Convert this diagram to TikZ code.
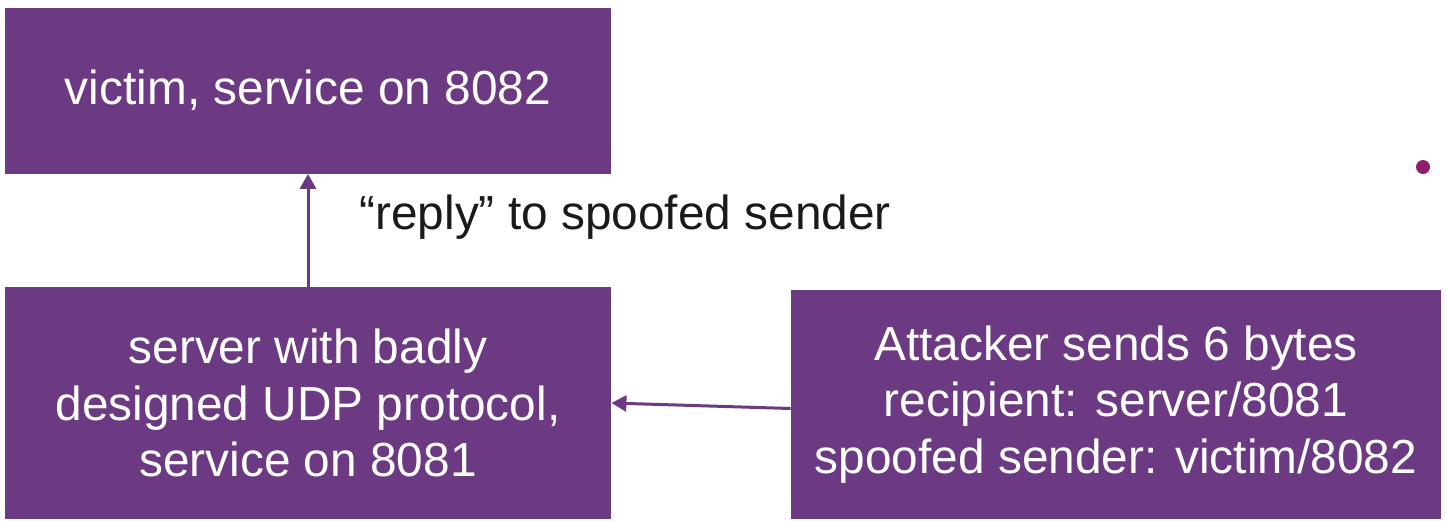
\documentclass[tikz,border=0pt]{standalone}
\usepackage{fontspec}
\setmainfont{Liberation Sans}
\usetikzlibrary{arrows.meta,positioning}
\definecolor{cBox}{HTML}{6C3A82}
\definecolor{cDot}{HTML}{8E1F6C}
\definecolor{cInk}{HTML}{1A1A1A}
\tikzset{
  box/.style  = {fill=cBox, text=white, align=center, inner sep=0pt,
                 font=\fontsize{23.9}{28.3}\selectfont},
  flow/.style = {-{Triangle[length=7.5pt,width=8pt]}, line width=1.5pt, draw=cBox},
  note/.style = {text=cInk, inner sep=0pt, font=\fontsize{23.9}{28}\selectfont},
}
\begin{document}
\begin{tikzpicture}[x=0.5pt,y=-0.5pt]
  \useasboundingbox (0,0) rectangle (1446,520);
  % ---- boxes ----
  \node[box, minimum width=303pt, minimum height=83pt] (victim) at (308,90.5)
    {victim, service on 8082};
  \node[box, minimum width=303pt, minimum height=116pt] (server) at (308,403)
    {server with badly\\ designed UDP protocol,\\ service on 8081};
  \node[box, minimum width=325pt, minimum height=114.5pt] (attacker) at (1116,404.5)
    {Attacker sends 6 bytes\\ recipient: server/8081\\ spoofed sender: victim/8082};
  % ---- flows ----
  \draw[flow] (server) -- (victim);
  \draw[flow] ([yshift=-2pt]attacker.west) -- (server.east);
  \node[note, anchor=west] (reply) at (359,217) {“reply” to spoofed sender};
  % stray bullet on the right
  \fill[cDot] (1423,167) circle (3.5pt);
\end{tikzpicture}
\end{document}
